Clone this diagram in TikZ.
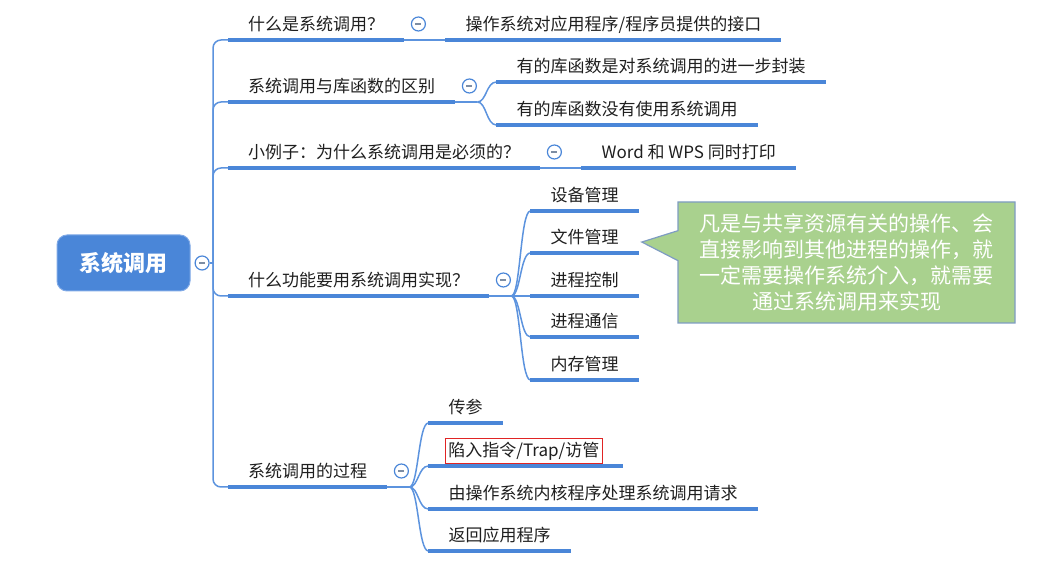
\documentclass[tikz,border=0pt]{standalone}
\usepackage{fontspec}
\setmainfont{Noto Sans CJK SC}
\usetikzlibrary{positioning, shapes.callouts, calc}
\usepackage{xcolor}
\definecolor{mapblue} {HTML}{4A86D8}
\definecolor{mapline} {HTML}{5C93DE}
\definecolor{rootedge}{HTML}{7FA9E6}
\definecolor{ink}     {HTML}{1F1F1F}
\definecolor{knob}    {HTML}{7D8DA3}
\definecolor{notefill}{HTML}{A9D18E}
\definecolor{noteedge}{HTML}{7E9CC2}
\definecolor{trapred} {HTML}{E02424}
\newcommand{\trapbox}[1]{{\setlength{\fboxsep}{3pt}\setlength{\fboxrule}{0.8pt}%
  \hspace*{-4pt}\fcolorbox{trapred}{white}{#1}}}
\tikzset{
  rootbox/.style = {fill=mapblue, draw=rootedge, line width=1pt,
                    rounded corners=10pt, minimum width=133pt,
                    minimum height=56pt, text=white,
                    font=\fontsize{22pt}{26pt}\selectfont\bfseries},
  topic/.style   = {anchor=south west, inner xsep=20pt, inner ysep=6pt,
                    text height=14pt, text depth=3.5pt, text=ink,
                    font=\fontsize{17pt}{20pt}\selectfont},
  fold/.style    = {circle, draw=mapblue, line width=1.2pt, fill=white,
                    minimum size=14pt, inner sep=0pt,
                    path picture={\draw[knob, line width=1.2pt]
                      ([xshift=4pt]path picture bounding box.west) --
                      ([xshift=-4pt]path picture bounding box.east);}},
  link/.style    = {mapline, line width=1.5pt},
  uline/.style   = {mapblue, line width=4pt},
  note/.style    = {rectangle callout, fill=notefill, draw=noteedge,
                    line width=1.2pt, text=white, align=center,
                    minimum width=337pt, minimum height=121pt,
                    callout pointer width=30pt,
                    font=\fontsize{21pt}{26pt}\selectfont},
}

\begin{document}
\begin{tikzpicture}[x=1pt, y=1pt]
  \useasboundingbox (0,0) rectangle (1054,569);

  % root
  \node[rootbox] (root) at (123.5,306) {系统调用};
  \node[fold, right=4pt of root] (k0) {};
  \coordinate (spine) at (213,306);

  % first level
  \node[topic] (b1) at (228,529) {什么是系统调用？};
  \node[topic] (b2) at (228,467) {系统调用与库函数的区别};
  \node[topic] (b3) at (228,401) {小例子：为什么系统调用是必须的？};
  \node[topic] (b4) at (228,273) {什么功能要用系统调用实现？};
  \node[topic] (b5) at (228,82)  {系统调用的过程};

  % second level
  \node[topic, right=41pt of b1.south east, anchor=south west] (b1a)
    {操作系统对应用程序/程序员提供的接口};
  \node[topic, right=41pt of b2.south east, anchor=south west, yshift=20pt] (b2a)
    {有的库函数是对系统调用的进一步封装};
  \node[topic, right=41pt of b2.south east, anchor=south west, yshift=-23pt] (b2b)
    {有的库函数没有使用系统调用};
  \node[topic, right=41pt of b3.south east, anchor=south west] (b3a)
    {Word 和 WPS 同时打印};
  \node[topic, right=41pt of b4.south east, anchor=south west, yshift=85pt] (b4a) {设备管理};
  \node[topic, right=41pt of b4.south east, anchor=south west, yshift=43pt] (b4b) {文件管理};
  \node[topic, right=41pt of b4.south east, anchor=south west]              (b4c) {进程控制};
  \node[topic, right=41pt of b4.south east, anchor=south west, yshift=-41pt] (b4d) {进程通信};
  \node[topic, right=41pt of b4.south east, anchor=south west, yshift=-84pt] (b4e) {内存管理};
  \node[topic, right=41pt of b5.south east, anchor=south west, yshift=64pt] (b5a) {传参};
  \node[topic, right=41pt of b5.south east, anchor=south west, yshift=21pt] (b5b)
    {\trapbox{陷入指令/Trap/访管}};
  \node[topic, right=41pt of b5.south east, anchor=south west, yshift=-22pt] (b5c)
    {由操作系统内核程序处理系统调用请求};
  \node[topic, right=41pt of b5.south east, anchor=south west, yshift=-64pt] (b5d) {返回应用程序};

  % spine
  \draw[link] (k0) -- (spine);
  \foreach \b in {b1,b2,b3,b4,b5}
    \draw[link, rounded corners=8pt] (spine) |- (\b.south west);

  % forks
  \foreach \b in {b2,b4,b5}
    \coordinate (f\b) at ([xshift=22pt]\b.south east);
  \draw[link] (b1.south east) -- (b1a.south west);
  \draw[link] (b3.south east) -- (b3a.south west);
  \foreach \b/\c in {b2/b2a, b2/b2b, b4/b4a, b4/b4b, b4/b4c, b4/b4d, b4/b4e,
                     b5/b5a, b5/b5b, b5/b5c, b5/b5d} {
    \draw[link] (\b.south east) -- (f\b);
    \draw[link] (f\b) .. controls +(9,0) and +(-10,0) .. (\c.south west);
  }

  % underlines
  \foreach \n in {b1,b1a,b2,b2a,b2b,b3,b3a,b4,b4a,b4b,b4c,b4d,b4e,
                  b5,b5a,b5b,b5c,b5d}
    \draw[uline] (\n.south west) -- (\n.south east);

  % fold knobs
  \foreach \b in {b1,b2,b3,b4,b5}
    \node[fold] (k\b) at ([xshift=14pt, yshift=16pt]\b.south east) {};

  % note
  \node[note, callout absolute pointer={([xshift=3pt, yshift=-4pt]b4b.east)}]
    (remark) at (846.5,306.5)
    {凡是与共享资源有关的操作、会\\直接影响到其他进程的操作，就\\
     一定需要操作系统介入，就需要\\通过系统调用来实现};

\end{tikzpicture}
\end{document}
